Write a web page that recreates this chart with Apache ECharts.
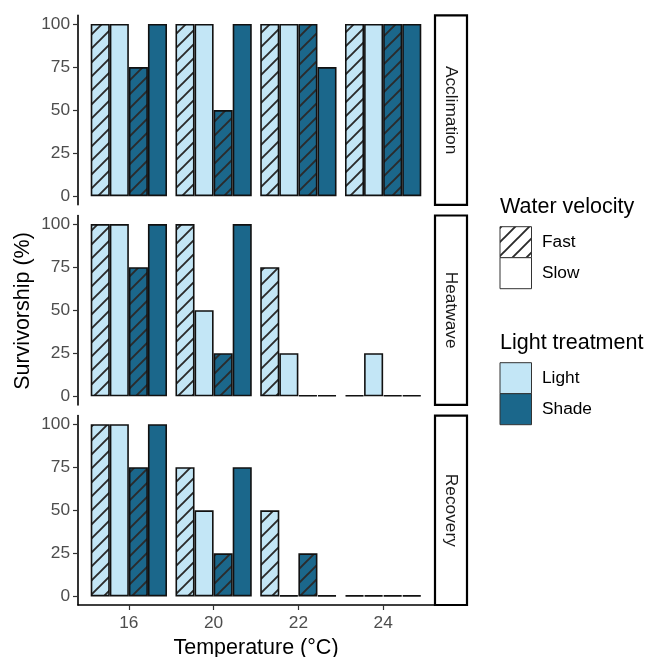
<!DOCTYPE html>
<html>
<head>
<meta charset="UTF-8">
<title>Survivorship</title>
<script src="https://cdn.jsdelivr.net/npm/echarts@6/dist/echarts.min.js"></script>
<style>
	html,body{margin:0;padding:0;background:#fff;}
	#chart{width:646px;height:657px;}
</style>
</head>
<body>
<div id="chart"></div>
<script>
var temps = ['16', '20', '22', '24'];
var phases = ['Acclimation', 'Heatwave', 'Recovery'];
var yTicks = [0, 25, 50, 75, 100];
// survivorship (%) for each phase, one value per temperature
var lightFast = [[100, 100, 100, 100], [100, 100, 75, 0], [100, 75, 50, 0]];
var lightSlow = [[100, 100, 100, 100], [100, 50, 25, 25], [100, 50, 0, 0]];
var shadeFast = [[75, 50, 100, 100], [75, 25, 0, 0], [75, 25, 25, 0]];
var shadeSlow = [[100, 100, 75, 100], [100, 100, 0, 0], [100, 75, 0, 0]];

var lightCol = '#c3e6f6';
var shadeCol = '#1b678b';
var font = "'Liberation Sans', Arial, sans-serif";
var small = 17.3, big = 21.5;

/* diagonal stripes on a colour */
function hatch(bg){
	var c = document.createElement('canvas');
	c.width = 14; c.height = 14;
	var g = c.getContext('2d');
	g.fillStyle = bg;
	g.fillRect(0, 0, 14, 14);
	g.strokeStyle = '#2b2b2b';
	g.lineWidth = 1.9;
	g.beginPath();
	g.moveTo(-2, 16); g.lineTo(16, -2);
	g.moveTo(-2, 2); g.lineTo(2, -2);
	g.moveTo(12, 16); g.lineTo(16, 12);
	g.stroke();
	return {image: c, repeat: 'repeat'};
}

var groups = [
	{name: 'Light Fast', vals: lightFast, fill: hatch(lightCol)},
	{name: 'Light Slow', vals: lightSlow, fill: lightCol},
	{name: 'Shade Fast', vals: shadeFast, fill: hatch(shadeCol)},
	{name: 'Shade Slow', vals: shadeSlow, fill: shadeCol}
];

var tops = [15.4, 215.5, 415.6];
var panelH = 189.4;
var panelL = 78, panelW = 356;

var grids = [], xAxes = [], yAxes = [], series = [], graphics = [];
for (var i = 0; i < phases.length; i++) {
	var last = i == phases.length - 1;
	grids.push({left: panelL, top: tops[i], width: panelW, height: panelH, outerBoundsMode: 'none', containLabel: false});
	xAxes.push({
		type: 'value', gridIndex: i, min: 0.4, max: 4.6,
		show: true,
		splitLine: {show: false},
		axisLine: {show: last, onZero: false, lineStyle: {color: '#000', width: 1.6}},
		axisTick: {show: last, length: 5, customValues: [1, 2, 3, 4], lineStyle: {color: '#333', width: 1.2}},
		axisLabel: {
			show: last, customValues: [1, 2, 3, 4], margin: 10,
			color: '#4d4d4d', fontSize: small, fontFamily: font,
			formatter: function(v){ return temps[Math.round(v) - 1]; }
		},
		name: last ? 'Temperature (°C)' : '',
		nameLocation: 'middle', nameGap: 32,
		nameTextStyle: {color: '#000', fontSize: big, fontFamily: font}
	});
	yAxes.push({
		type: 'value', gridIndex: i, min: -5, max: 105,
		splitLine: {show: false},
		axisLine: {show: true, onZero: false, lineStyle: {color: '#000', width: 1.6}},
		axisTick: {show: true, length: 5, customValues: yTicks, lineStyle: {color: '#333', width: 1.2}},
		axisLabel: {customValues: yTicks, margin: 8, color: '#4d4d4d', fontSize: small, fontFamily: font}
	});
	for (var k = 0; k < groups.length; k++) {
		var gr = groups[k];
		series.push({
			type: 'bar', name: gr.name, xAxisIndex: i, yAxisIndex: i,
			barGap: '0%', barCategoryGap: '10%', barMinHeight: 1,
			data: gr.vals[i].map(function(v, j){ return [j + 1, v]; }),
			itemStyle: {color: gr.fill, borderColor: '#111', borderWidth: 1.6},
			emphasis: {disabled: true}
		});
	}
	/* facet strip on the right */
	graphics.push({
		type: 'rect', shape: {x: 435, y: tops[i], width: 32, height: panelH},
		style: {fill: '#fff', stroke: '#000', lineWidth: 2.2}
	});
	graphics.push({
		type: 'text', x: 451, y: tops[i] + panelH / 2, rotation: -Math.PI / 2,
		style: {text: phases[i], fill: '#1a1a1a', fontSize: small, fontFamily: font, align: 'center', verticalAlign: 'middle'}
	});
}

graphics.push({
	type: 'text', x: 23, y: 311, rotation: Math.PI / 2,
	style: {text: 'Survivorship (%)', fill: '#000', fontSize: big, fontFamily: font, align: 'center', verticalAlign: 'middle'}
});

/* legends */
function legendTitle(t, y){
	graphics.push({type: 'text', x: 500, y: y, style: {text: t, fill: '#000', fontSize: big, fontFamily: font, verticalAlign: 'middle'}});
}
function legendKey(t, y, fill){
	graphics.push({type: 'rect', shape: {x: 500, y: y, width: 31.5, height: 31}, style: {fill: fill, stroke: '#333', lineWidth: 1}});
	graphics.push({type: 'text', x: 542, y: y + 15.5, style: {text: t, fill: '#000', fontSize: small, fontFamily: font, verticalAlign: 'middle'}});
}
legendTitle('Water velocity', 207);
legendKey('Fast', 226.7, hatch('#fff'));
legendKey('Slow', 257.7, '#fff');
legendTitle('Light treatment', 343);
legendKey('Light', 362.7, lightCol);
legendKey('Shade', 393.7, shadeCol);

var myChart = echarts.init(document.getElementById('chart'));
myChart.setOption({
	animation: false,
	backgroundColor: '#fff',
	grid: grids,
	xAxis: xAxes,
	yAxis: yAxes,
	series: series,
	graphic: graphics
});
</script>
</body>
</html>
